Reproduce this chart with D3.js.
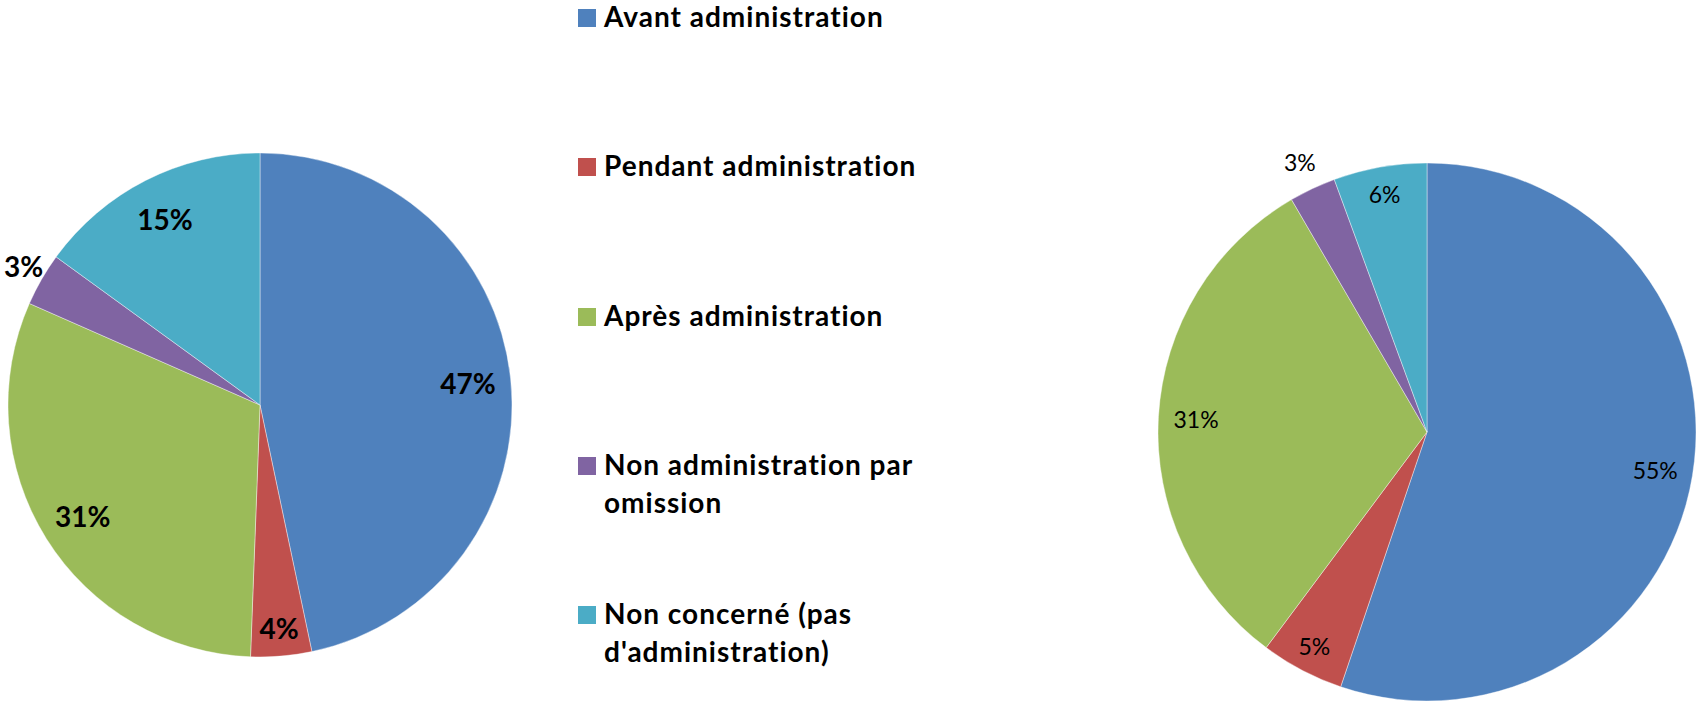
<!DOCTYPE html>
<html>
<head>
<meta charset="utf-8">
<script src="https://cdn.jsdelivr.net/npm/d3@7"></script>
<style>
  body { margin: 0; background: #fff; }
  svg text { font-family: Lato, "Open Sans", sans-serif; fill: #000; }
  .legText { font-weight: bold; font-size: 28px; letter-spacing: 1px; }
  .lblBold { font-weight: bold; font-size: 28px; }
  .lblNorm { font-size: 23px; }
</style>
</head>
<body>
<div id="chartHolder"></div>
<script>
// categories (legend order = slice order, clockwise from 12 o'clock)
const categories = [
  "Avant administration",
  "Pendant administration",
  "Après administration",
  "Non administration par omission",
  "Non concerné (pas d'administration)"
];
const colors = ["#4F81BD", "#C0504D", "#9BBB59", "#8064A2", "#4BACC6"];

// shares (%)
const leftValues = [46.7, 3.9, 31.0, 3.4, 15.0];
const rightValues = [55.2, 5.0, 31.4, 2.8, 5.6];

const w = 1697;
const h = 703;

const svg = d3.select("#chartHolder").append("svg")
  .attr("width", w)
  .attr("height", h);

const pie = d3.pie()
  .sort(null)
  .value((d) => d);

function drawPie(values, cx, cy, r, labelClass, innerK, narrowK) {
  const arcs = pie(values);
  const total = d3.sum(values);
  const arc = d3.arc().innerRadius(0).outerRadius(r);

  const g = svg.append("g")
    .attr("transform", "translate(" + cx + "," + cy + ")");

  g.selectAll("path")
    .data(arcs)
    .enter()
    .append("path")
    .attr("d", arc)
    .attr("fill", (d, i) => colors[i])
    .attr("stroke", "#fff")
    .attr("stroke-opacity", 0.5)
    .attr("stroke-width", 0.8);

  g.selectAll(".lbl")
    .data(arcs)
    .enter()
    .append("text")
    .attr("class", "lbl " + labelClass)
    .attr("text-anchor", "middle")
    .attr("dominant-baseline", "central")
    .attr("x", (d) => {
      const share = d.value / total;
      // small slices get their label outside, narrow ones pushed toward the rim
      let k = innerK;
      if (share < 0.035) k = 1.11;
      else if (share < 0.07) k = narrowK;
      d.k = k;
      return Math.sin((d.startAngle + d.endAngle) / 2) * r * k;
    })
    .attr("y", (d) => -Math.cos((d.startAngle + d.endAngle) / 2) * r * d.k)
    .text((d) => Math.round(d.value / total * 100) + "%")
    .each(function() {
      // keep labels inside the page
      const b = this.getBBox();
      const left = cx + b.x;
      if (left < 4) d3.select(this).attr("x", +d3.select(this).attr("x") + (4 - left));
    });
}

drawPie(leftValues, 260, 405, 252, "lblBold", 0.83, 0.89);
drawPie(rightValues, 1427, 432, 269, "lblNorm", 0.86, 0.9);

// legend
const legTop = [9, 158, 308, 457, 606];
const legend = svg.selectAll(".legend")
  .data(categories)
  .enter()
  .append("g")
  .attr("class", "legend")
  .attr("transform", (d, i) => "translate(578," + legTop[i] + ")");

legend.append("rect")
  .attr("width", 18)
  .attr("height", 18)
  .attr("fill", (d, i) => colors[i]);

legend.each(function(d) {
  const t = d3.select(this).append("text")
    .attr("class", "legText")
    .attr("x", 26)
    .attr("y", 18);
  // simple word wrap
  const words = d.split(" ");
  let line = [];
  let tspan = t.append("tspan").attr("x", 26).attr("dy", 0);
  words.forEach((word) => {
    line.push(word);
    tspan.text(line.join(" "));
    if (tspan.node().getComputedTextLength() > 345 && line.length > 1) {
      line.pop();
      tspan.text(line.join(" "));
      line = [word];
      tspan = t.append("tspan").attr("x", 26).attr("dy", 38).text(word);
    }
  });
});
</script>
</body>
</html>
